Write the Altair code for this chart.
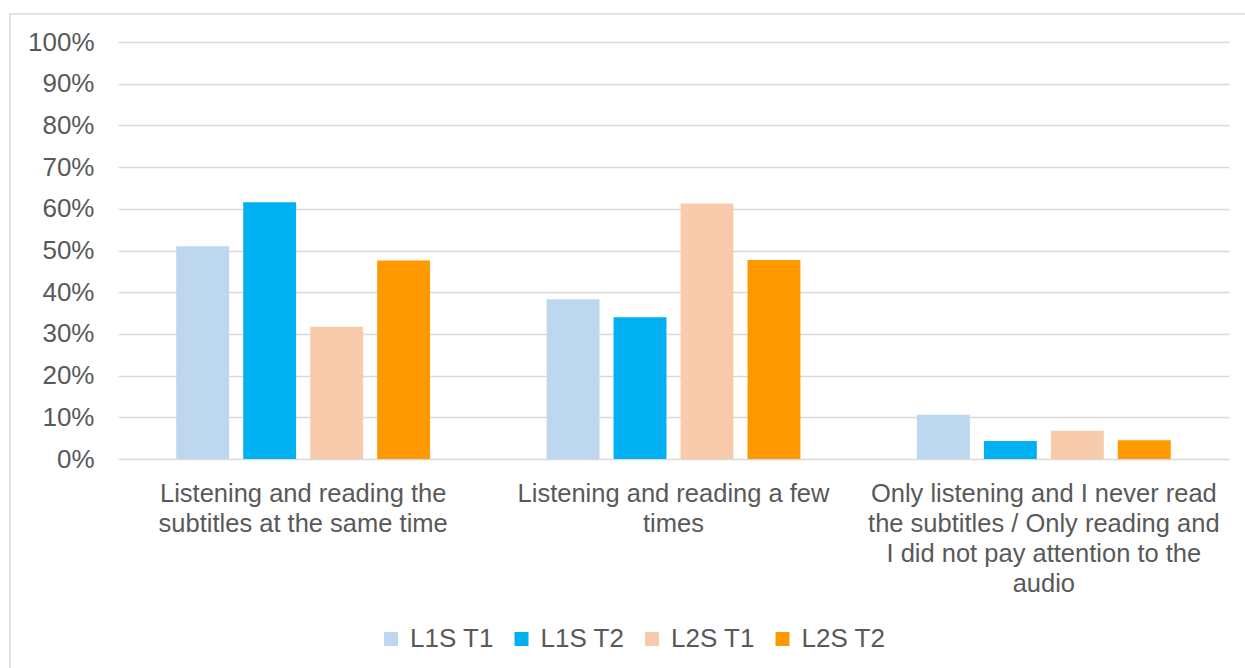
import altair as alt
import pandas as pd

# Response categories (x axis) and survey groups (bars within each category)
categories = [
    "Listening and reading the\nsubtitles at the same time",
    "Listening and reading a few\ntimes",
    "Only listening and I never read\nthe subtitles / Only reading and\nI did not pay attention to the\naudio",
]
groups = ["L1S T1", "L1S T2", "L2S T1", "L2S T2"]
group_colors = ["#BDD7EE", "#00B0F0", "#F8CBAD", "#FF9900"]

# Share of respondents per category, one list per group
l1s_t1 = [0.510, 0.383, 0.106]
l1s_t2 = [0.616, 0.340, 0.043]
l2s_t1 = [0.317, 0.613, 0.068]
l2s_t2 = [0.476, 0.477, 0.045]

series = [l1s_t1, l1s_t2, l2s_t1, l2s_t2]
rows = []
for g, vals in zip(groups, series):
    for c, v in zip(categories, vals):
        rows.append({"category": c, "group": g, "share": v})
df = pd.DataFrame(rows)

FONT = "Liberation Sans"
TEXT = "#595959"
GRID = "#D9D9D9"

PLOT_W, PLOT_H = 1111, 417
PAD = {"left": 118, "top": 42, "right": 16, "bottom": 209}

bars = alt.Chart(df).mark_bar().encode(
    x=alt.X(
        "category:N",
        sort=categories,
        scale=alt.Scale(paddingInner=0, paddingOuter=0),
        axis=alt.Axis(
            title=None,
            labelAngle=0,
            labelAlign="center",
            labelBaseline="top",
            labelExpr="split(datum.label, '\\n')",
            labelFontSize=25.5,
            labelLineHeight=30,
            labelColor=TEXT,
            labelFont=FONT,
            labelPadding=22.5,
            ticks=False,
            domain=False,
            grid=False,
            labelLimit=0,
        ),
    ),
    xOffset=alt.XOffset(
        "group:N",
        sort=groups,
        scale=alt.Scale(paddingInner=0.21, paddingOuter=0.87),
    ),
    y=alt.Y(
        "share:Q",
        scale=alt.Scale(domain=[0, 1], nice=False),
        axis=alt.Axis(
            title=None,
            values=[i / 10 for i in range(11)],
            format=".0%",
            labelFontSize=26,
            labelColor=TEXT,
            labelFont=FONT,
            labelPadding=24,
            ticks=False,
            domain=False,
            gridColor=GRID,
            gridWidth=1.3,
        ),
    ),
    color=alt.Color(
        "group:N",
        sort=groups,
        scale=alt.Scale(domain=groups, range=group_colors),
        legend=alt.Legend(
            title=None,
            orient="none",
            direction="horizontal",
            legendX=260,
            legendY=584,
            symbolType="square",
            symbolSize=196,
            symbolStrokeWidth=0,
            labelFontSize=26,
            labelFont=FONT,
            labelColor=TEXT,
            labelOffset=6,
            columnPadding=14.5,
        ),
    ),
)

# Light grey frame around the whole chart area
frame = alt.Chart(pd.DataFrame({"k": [0]})).mark_rect(
    fill=None, stroke=GRID, strokeWidth=1.5
).encode(
    x=alt.value(-108),
    x2=alt.value(PLOT_W + PAD["right"] + 20),
    y=alt.value(-28),
    y2=alt.value(PLOT_H + PAD["bottom"] + 20),
)

chart = alt.layer(frame, bars).properties(
    width=PLOT_W,
    height=PLOT_H,
    autosize=alt.AutoSizeParams(type="none"),
    padding=PAD,
    background="white",
).configure_view(stroke=None)

chart.save("out.html", embed_options={"renderer": "svg", "actions": False})
